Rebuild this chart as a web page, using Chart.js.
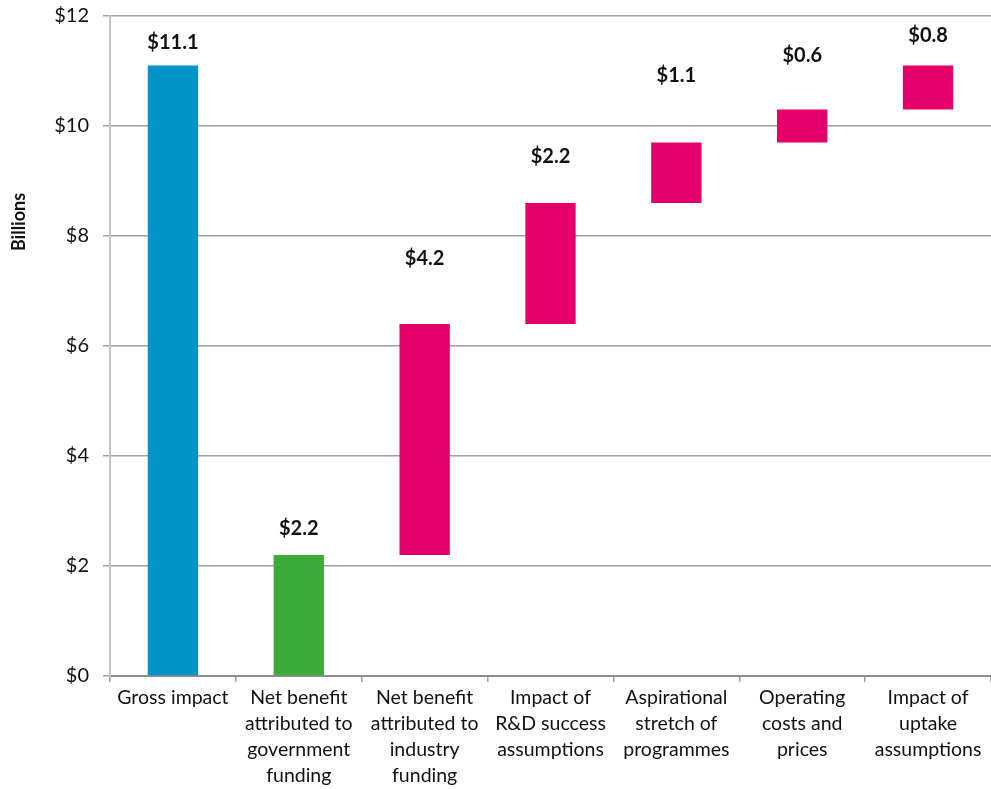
<!DOCTYPE html>
<html>
<head>
<meta charset="utf-8">
<script src="https://cdn.jsdelivr.net/npm/chart.js@4/dist/chart.umd.min.js"></script>
<style>
  html, body { margin: 0; padding: 0; background: #fff; }
  #wrap { width: 991px; height: 789px; }
</style>
</head>
<body>
<div id="wrap"><canvas id="waterfall"></canvas></div>
<script>
const categories = [
  ["Gross impact"],
  ["Net benefit", "attributed to", "government", "funding"],
  ["Net benefit", "attributed to", "industry", "funding"],
  ["Impact of", "R&D success", "assumptions"],
  ["Aspirational", "stretch of", "programmes"],
  ["Operating", "costs and", "prices"],
  ["Impact of", "uptake", "assumptions"],
];

// Gross total, then the steps that build back up to it (billions)
const grossImpact = 11.1;
const steps = [2.2, 4.2, 2.2, 1.1, 0.6, 0.8];
const barColors = ["#0093c7", "#3cab3a", "#e4006b", "#e4006b", "#e4006b", "#e4006b", "#e4006b"];

// floating ranges: first bar from zero, the rest stacked on the running total
const ranges = [[0, grossImpact]];
let running = 0;
for (const s of steps) {
  ranges.push([running, running + s]);
  running += s;
}
const values = [grossImpact, ...steps];

// how far above each bar its value label sits (px)
const labelGap = [23, 26, 65, 46, 67, 54, 30];

const valueLabels = {
  id: "valueLabels",
  afterDatasetsDraw(chart) {
    const { ctx, chartArea } = chart;
    const meta = chart.getDatasetMeta(0);
    ctx.save();
    ctx.font = "bold 20px Lato, 'Open Sans', sans-serif";
    ctx.fillStyle = "#111";
    ctx.textAlign = "center";
    ctx.textBaseline = "middle";
    meta.data.forEach((bar, i) => {
      const top = chart.scales.y.getPixelForValue(ranges[i][1]);
      ctx.fillText("$" + values[i].toFixed(1), bar.x, top - labelGap[i]);
    });

    // axis title sits in the upper part of the axis, not centred
    ctx.font = "bold 18px Lato, 'Open Sans', sans-serif";
    ctx.translate(19, chartArea.top + 206);
    ctx.rotate(-Math.PI / 2);
    ctx.fillText("Billions", 0, 0);
    ctx.restore();
  },
};

new Chart(document.querySelector("#waterfall"), {
  type: "bar",
  data: {
    labels: categories,
    datasets: [
      {
        data: ranges,
        backgroundColor: barColors,
        borderWidth: 0,
        barPercentage: 0.4,
        categoryPercentage: 1,
      },
    ],
  },
  options: {
    responsive: true,
    maintainAspectRatio: false,
    animation: false,
    layout: { padding: { top: 16, right: 0, left: 0, bottom: 0 } },
    plugins: {
      legend: { display: false },
      tooltip: { enabled: false },
    },
    scales: {
      x: {
        offset: true,
        grid: {
          offset: true,
          drawOnChartArea: false,
          color: "#a0a0a0",
          lineWidth: 1.5,
          tickLength: 6,
        },
        border: { color: "#8c8c8c", width: 2 },
        ticks: {
          color: "#111",
          font: { family: "Lato, 'Open Sans', sans-serif", size: 19.5, lineHeight: 1.33 },
          maxRotation: 0,
          autoSkip: false,
          padding: 3,
        },
        afterFit: (scale) => { scale.height = 113; },
      },
      y: {
        min: 0,
        max: 12,
        ticks: {
          stepSize: 2,
          color: "#111",
          font: { family: "Lato, 'Open Sans', sans-serif", size: 20 },
          padding: 14,
          callback: (v) => "$" + v,
        },
        grid: { color: "#a0a0a0", lineWidth: 1.5, tickLength: 7 },
        border: { color: "#c4c4c4", width: 2 },
        afterFit: (scale) => {
          scale.width = 110;
          scale.paddingTop = 0;
          scale.paddingBottom = 0;
        },
      },
    },
  },
  plugins: [valueLabels],
});
</script>
</body>
</html>
